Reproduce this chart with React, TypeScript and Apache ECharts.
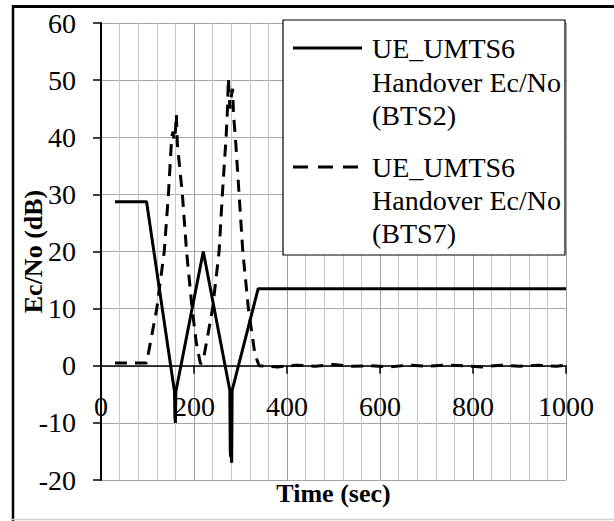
import React, { useEffect, useRef } from "react";
import * as echarts from "echarts";

const xTicks = [0, 200, 400, 600, 800, 1000];
const yTicks = [-20, -10, 0, 10, 20, 30, 40, 50, 60];

const seriesNames = ["UE_UMTS6 Handover Ec/No (BTS2)", "UE_UMTS6 Handover Ec/No (BTS7)"];

const bts2: [number, number][] = [
  [30, 28.7], [98, 28.7], [158, -4.5], [159, -9], [160, -10], [161, -4.5],
  [220, 20], [277, -4.3], [278, -15], [279, -16], [280, -12], [281, -17],
  [282, -4.3], [338, 13.5], [1000, 13.5],
];

const bts7: [number, number][] = [
  [30, 0.5], [98, 0.5], [120, 10], [136, 20], [145, 30], [152, 40], [155, 41],
  [157, 39.5], [160, 41], [162, 44], [164, 39], [175, 30], [184, 20], [196, 10],
  [205, 4], [214, 0.3], [220, 1], [240, 10], [254, 20], [261, 30], [269, 40],
  [272, 45], [274, 50.3], [277, 45], [280, 47], [283, 48.5], [285, 44], [289, 40],
  [297, 30], [305, 20], [317, 10], [331, 2], [340, 0], [380, -0.2], [420, 0.1],
  [460, -0.1], [500, 0.2], [540, -0.1], [580, 0], [620, -0.2], [660, 0.1],
  [700, -0.1], [740, 0.1], [780, 0], [820, -0.2], [860, 0.1], [900, -0.1],
  [940, 0.1], [980, -0.1], [1000, 0.1],
];

const FONT = '"Liberation Serif", "Times New Roman", serif';

// grid geometry
const GRID_TOP = 23;
const GRID_H = 457;
const zeroOffset = (GRID_H * (0 - yTicks[0])) / (yTicks[yTicks.length - 1] - yTicks[0]);

export default function App() {
  const ref = useRef<HTMLDivElement>(null);
  useEffect(() => {
    if (!ref.current) return;
    const chart = echarts.init(ref.current, undefined, { renderer: "svg" });
    const legendText = (txt: string, y: number) => ({
      type: "text",
      z: 12,
      style: { text: txt, x: 372, y, fill: "#000", font: `28px ${FONT}`, verticalAlign: "middle", align: "left" },
    });
    chart.setOption({
      animation: false,
      backgroundColor: "#fff",
      grid: { left: 101, top: GRID_TOP, width: 465, height: GRID_H, outerBoundsMode: "none", containLabel: false },
      xAxis: {
        type: "value",
        min: xTicks[0],
        max: xTicks[xTicks.length - 1],
        interval: 200,
        position: "bottom",
        offset: -zeroOffset,
        name: "Time (sec)",
        nameLocation: "middle",
        nameGap: 115,
        nameMoveOverlap: false,
        nameTextStyle: { fontFamily: FONT, fontWeight: "bold", fontSize: 26, color: "#000" },
        axisLine: { onZero: false, lineStyle: { color: "#000", width: 1.5 } },
        axisTick: { show: true, length: 8, lineStyle: { color: "#000", width: 1.5 } },
        axisLabel: { margin: 27, fontFamily: FONT, fontSize: 28, color: "#000", formatter: (v: number) => String(v) },
        splitLine: { show: true, lineStyle: { color: "#a0a0a0", width: 1 } },
        minorTick: { show: false, splitNumber: 5 },
        minorSplitLine: { show: true, lineStyle: { color: "#c8c8c8", width: 1 } },
      },
      yAxis: {
        type: "value",
        min: yTicks[0],
        max: yTicks[yTicks.length - 1],
        interval: 10,
        name: "Ec/No (dB)",
        nameLocation: "middle",
        nameGap: 55,
        nameMoveOverlap: false,
        nameTextStyle: { fontFamily: FONT, fontWeight: "bold", fontSize: 26, color: "#000" },
        axisLine: { show: true, onZero: false, lineStyle: { color: "#000", width: 2 } },
        axisTick: { show: true, length: 8, lineStyle: { color: "#000", width: 1.5 } },
        axisLabel: { margin: 25, fontFamily: FONT, fontSize: 28, color: "#000", formatter: (v: number) => String(v) },
        splitLine: { show: true, lineStyle: { color: "#a6a6a6", width: 1 } },
      },
      series: [
        {
          name: seriesNames[0],
          type: "line",
          data: bts2,
          showSymbol: false,
          symbol: "none",
          lineStyle: { color: "#000", width: 3 },
          z: 3,
        },
        {
          name: seriesNames[1],
          type: "line",
          data: bts7,
          showSymbol: false,
          symbol: "none",
          lineStyle: { color: "#000", width: 3, type: [12, 8] },
          z: 3,
        },
      ],
      graphic: [
        { type: "line", shape: { x1: 12, y1: 6.5, x2: 614, y2: 6.5 }, style: { stroke: "#000", lineWidth: 3 } },
        { type: "line", shape: { x1: 13, y1: 5, x2: 13, y2: 521 }, style: { stroke: "#000", lineWidth: 2.5 } },
        { type: "line", shape: { x1: 12, y1: 519.5, x2: 614, y2: 519.5 }, style: { stroke: "#d4d4d4", lineWidth: 1.5 } },
        {
          type: "rect",
          z: 10,
          shape: { x: 283, y: 20, width: 282, height: 235 },
          style: { fill: "#fff", stroke: "#000", lineWidth: 1.2 },
        },
        { type: "line", z: 12, shape: { x1: 293, y1: 48, x2: 362, y2: 48 }, style: { stroke: "#000", lineWidth: 3 } },
        { type: "line", z: 12, shape: { x1: 293, y1: 167, x2: 362, y2: 167 }, style: { stroke: "#000", lineWidth: 3, lineDash: [15, 10] } },
        legendText("UE_UMTS6", 48),
        legendText("Handover Ec/No", 82),
        legendText("(BTS2)", 115),
        legendText("UE_UMTS6", 167),
        legendText("Handover Ec/No", 200),
        legendText("(BTS7)", 233),
      ],
    });
    return () => chart.dispose();
  }, []);
  return (
    <div
      ref={ref}
      style={{ position: "fixed", left: 0, top: 0, width: 614, height: 521, background: "#fff" }}
    />
  );
}
